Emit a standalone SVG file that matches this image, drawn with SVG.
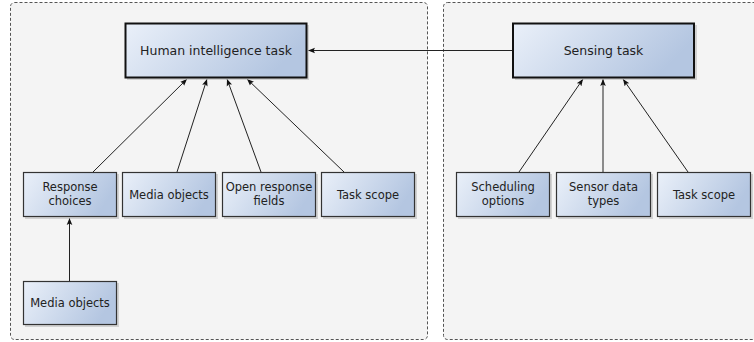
<svg xmlns="http://www.w3.org/2000/svg" width="754" height="342" viewBox="0 0 754 342">
<defs>
<linearGradient id="g" x1="0" y1="0" x2="1" y2="0.3">
<stop offset="0" stop-color="#eaf0f9"/>
<stop offset="1" stop-color="#b4c6e1"/>
</linearGradient>
<marker id="a" viewBox="0 0 10 10" refX="10" refY="5" markerWidth="7" markerHeight="7" orient="auto" markerUnits="userSpaceOnUse">
<path d="M0,1 L10,5 L0,9 L2,5 z" fill="#111"/>
</marker>
</defs>
<style>
.c{fill:#f4f4f4;stroke:#555;stroke-width:1;stroke-dasharray:3,2}
.n{fill:url(#g);stroke:#333;stroke-width:1.2}
.m{fill:url(#g);stroke:#111;stroke-width:2}
.s{fill:#bbb;opacity:0.6}
text{font-family:"DejaVu Sans",sans-serif;fill:#222;text-anchor:middle}
.t{font-size:12.5px}
.u{font-size:11.5px}
.e{stroke:#222;stroke-width:1;fill:none;marker-end:url(#a)}
</style>
<rect class="c" x="10.5" y="2.5" width="417" height="337" rx="4"/>
<rect class="c" x="443.5" y="2.5" width="320" height="337" rx="4"/>
<g id="connectors">
<line class="e" x1="512" y1="50.5" x2="308" y2="50.5"/>
<line class="e" x1="93" y1="172" x2="187" y2="79"/>
<line class="e" x1="177" y1="172" x2="207" y2="79"/>
<line class="e" x1="261" y1="172" x2="227" y2="79"/>
<line class="e" x1="344" y1="172" x2="247" y2="79"/>
<line class="e" x1="69.5" y1="281" x2="69.5" y2="218"/>
<line class="e" x1="519" y1="172" x2="583" y2="79"/>
<line class="e" x1="603" y1="172" x2="603" y2="79"/>
<line class="e" x1="688" y1="172" x2="623" y2="79"/>
</g>
<g id="hit">
<rect class="s" x="127" y="25" width="182" height="55"/>
<rect class="m" x="125.5" y="23.5" width="181" height="54"/>
<text class="t" x="216" y="55">Human intelligence task</text>
</g>
<g id="sensing">
<rect class="s" x="515" y="25" width="182" height="55"/>
<rect class="m" x="513" y="23.5" width="181" height="54"/>
<text class="t" x="603.5" y="55">Sensing task</text>
</g>
<g id="response">
<rect class="s" x="25" y="174" width="94" height="45"/>
<rect class="n" x="23.5" y="172.5" width="93" height="44"/>
<text class="u" x="70" y="191">Response</text>
<text class="u" x="70" y="205">choices</text>
</g>
<g id="media1">
<rect class="s" x="124" y="174" width="94" height="45"/>
<rect class="n" x="122.5" y="172.5" width="93" height="44"/>
<text class="u" x="169" y="198.5">Media objects</text>
</g>
<g id="open">
<rect class="s" x="224" y="174" width="94" height="45"/>
<rect class="n" x="222.5" y="172.5" width="93" height="44"/>
<text class="u" x="269" y="191">Open response</text>
<text class="u" x="269" y="205">fields</text>
</g>
<g id="scope1">
<rect class="s" x="323" y="174" width="94" height="45"/>
<rect class="n" x="321.5" y="172.5" width="93" height="44"/>
<text class="u" x="368" y="198.5">Task scope</text>
</g>
<g id="media2">
<rect class="s" x="25" y="283" width="94" height="44"/>
<rect class="n" x="23.5" y="281.5" width="93" height="43"/>
<text class="u" x="70" y="307">Media objects</text>
</g>
<g id="scheduling">
<rect class="s" x="458" y="174" width="94" height="45"/>
<rect class="n" x="456.5" y="172.5" width="93" height="44"/>
<text class="u" x="503" y="191">Scheduling</text>
<text class="u" x="503" y="205">options</text>
</g>
<g id="sensor">
<rect class="s" x="558" y="174" width="95" height="45"/>
<rect class="n" x="556.5" y="172.5" width="94" height="44"/>
<text class="u" x="603.5" y="191">Sensor data</text>
<text class="u" x="603.5" y="205">types</text>
</g>
<g id="scope2">
<rect class="s" x="659" y="174" width="94" height="45"/>
<rect class="n" x="657.5" y="172.5" width="93" height="44"/>
<text class="u" x="704" y="198.5">Task scope</text>
</g>
</svg>
